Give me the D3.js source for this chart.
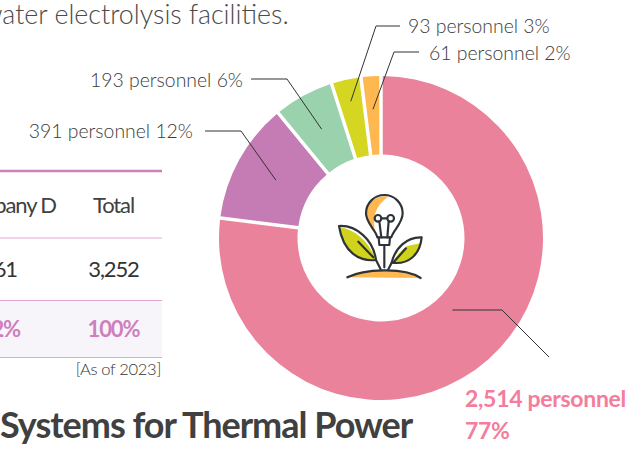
<!doctype html>
<html lang="en">
<head>
<meta charset="utf-8">
<title>Personnel by company</title>
<script src="https://cdn.jsdelivr.net/npm/d3@7"></script>
<style>
	html, body { margin: 0; padding: 0; background: #fff; }
	svg { display: block; }
	text { font-family: Lato, "Open Sans", sans-serif; }
</style>
</head>
<body>
<div id="viz"></div>
<script>
// chart values
var personnel = [2514, 391, 193, 93, 61];
var labels = ["2,514 personnel", "391 personnel 12%", "193 personnel 6%", "93 personnel 3%", "61 personnel 2%"];
var colors = ["#eb829b", "#c57bb3", "#9ad2ad", "#d5d621", "#ffb84f"];

// table fragment left of the donut
var tableHeader = ["Company D", "Total"];
var tableCounts = ["61", "3,252"];
var tableShares = ["2%", "100%"];

var w = 636, h = 450;
var cx = 381, cy = 238, outer = 162, inner = 83.5;
var ink = "#404040", purple = "#cf7fbc";

var svg = d3.select("#viz").append("svg")
	.attr("width", w)
	.attr("height", h)
	.attr("viewBox", "0 0 " + w + " " + h);

// text around the chart
svg.append("text").attr("x", -18).attr("y", 24)
	.style("font-size", "26.8px").style("font-weight", 300).style("fill", "#4a4a4a")
	.text("water electrolysis facilities.");

svg.append("text").attr("x", 0).attr("y", 438)
	.style("font-size", "36px").style("font-weight", 700).style("fill", ink)
	.style("letter-spacing", "-1px")
	.text("Systems for Thermal Power");

// table
svg.append("rect").attr("x", 0).attr("y", 301).attr("width", 162).attr("height", 56).attr("fill", "#f7f4fa");
[[171, 2.4], [238, 1.2], [300.5, 1.2], [357.5, 1.2]].forEach(function(r) {
	svg.append("line").attr("x1", 0).attr("x2", 162).attr("y1", r[0]).attr("y2", r[0])
		.attr("stroke", r[1] > 2 ? purple : "#e4a9d2").attr("stroke-width", r[1]);
});

function tableRow(values, y, color, weight) {
	svg.append("text").attr("x", values === tableShares ? 20 : (values === tableHeader ? 56 : 17)).attr("y", y)
		.attr("text-anchor", "end")
		.style("font-size", "22px").style("font-weight", weight).style("fill", color)
		.style("letter-spacing", "-1.1px")
		.text(values[0]);
	svg.append("text").attr("x", 113.5).attr("y", y)
		.attr("text-anchor", "middle")
		.style("font-size", "22px").style("font-weight", weight).style("fill", color)
		.style("letter-spacing", "-1.1px")
		.text(values[1]);
}
tableRow(tableHeader, 213, ink, 400);
tableRow(tableCounts, 277, "#333", 400);
tableRow(tableShares, 337, purple, 700);

svg.append("text").attr("x", 161).attr("y", 375)
	.attr("text-anchor", "end")
	.style("font-size", "16.5px").style("font-weight", 300).style("fill", "#333")
	.style("letter-spacing", "-0.3px")
	.text("[As of 2023]");

// donut
var pie = d3.pie().sort(null).padAngle(0.0073);
var arc = d3.arc().innerRadius(inner).outerRadius(outer).padAngle(3.5 / outer).padRadius(outer);
var slices = pie(personnel);

var donut = svg.append("g").attr("transform", "translate(" + cx + "," + cy + ")");

donut.selectAll("path.slice")
	.data(slices)
	.enter()
	.append("path")
	.attr("class", "slice")
	.attr("fill", function(d, i) { return colors[i]; })
	.attr("d", arc);

// leader lines: radius inside the slice, then elbow and end relative to the donut centre
var leaders = [
	{ r: 108, elbow: [121, 72], end: [168, 119] },
	{ r: 120, elbow: [-140, -107], end: [-176, -107] },
	{ r: 124, elbow: [-94, -159], end: [-130, -159] },
	{ r: 140, elbow: [-5, -212], end: [19, -212] },
	{ r: 129, elbow: [13, -186], end: [38, -186] }
];

donut.selectAll("path.leader")
	.data(slices)
	.enter()
	.append("path")
	.attr("class", "leader")
	.attr("fill", "none")
	.attr("stroke", "#333")
	.attr("stroke-width", 1)
	.attr("d", function(d, i) {
		var l = leaders[i];
		var a = (d.startAngle + d.endAngle) / 2;
		var start = [Math.sin(a) * l.r, -Math.cos(a) * l.r];
		if (i === 0) start[1] = l.elbow[1]; // this one leaves the elbow level
		return d3.line()([start, l.elbow, l.end]);
	});

var labelPos = [[0, 0], [193, 138], [243, 87], [408, 33], [429, 60]];
labels.forEach(function(t, i) {
	if (i === 0) return;
	svg.append("text").attr("x", labelPos[i][0]).attr("y", labelPos[i][1])
		.attr("text-anchor", i < 3 ? "end" : "start")
		.style("font-size", "19.4px").style("font-weight", 300).style("fill", "#3a3a3a")
		.text(t);
});

[[labels[0], 407], ["77%", 439]].forEach(function(t) {
	svg.append("text").attr("x", 465).attr("y", t[1])
		.style("font-size", "23px").style("font-weight", 700).style("fill", "#f47c9c")
		.style("letter-spacing", "-0.3px")
		.text(t[0]);
});

// centre icon, drawn in zoomed units
var icon = svg.append("g").attr("transform", "translate(320,180) scale(0.3333)")
	.attr("fill", "none").attr("stroke", "#2e3436").attr("stroke-width", 6.5)
	.attr("stroke-linecap", "round").attr("stroke-linejoin", "round");

icon.append("path").attr("stroke", "none").attr("fill", "#ffb84f")
	.attr("d", "M205,50 A56,56 0 0 0 138,100 C138,122 150,138 165,155 C158,110 165,78 205,50 Z");
icon.append("path").attr("stroke", "none").attr("fill", "#d0d21c")
	.attr("d", "M60,142 C110,150 150,190 167,240 C120,244 70,218 60,142 Z");
icon.append("path").attr("stroke", "none").attr("fill", "#d0d21c")
	.attr("d", "M262,198 C240,212 228,230 218,248 C260,252 292,228 300,190 Z");
icon.append("path").attr("stroke", "none").attr("fill", "#ffb84f")
	.attr("d", "M82,292 C130,268 250,260 302,294 Z");

[
	"M172,172 C168,150 138,130 138,100 A55,55 0 1 1 248,100 C248,130 220,150 214,172 Z",
	"M176,172 L178,195 H208 L210,172",
	"M193,195 V262",
	"M178,124 L184,172",
	"M206,124 L202,172",
	"M184,115 H200",
	"M57,138 C110,135 160,180 168,240 C120,245 70,220 57,138 Z",
	"M115,185 L160,232",
	"M168,240 L182,268",
	"M305,172 C260,170 225,205 215,248 C265,255 300,225 305,172 Z",
	"M258,205 L222,245",
	"M215,248 L205,268",
	"M82,292 C130,268 250,260 302,294"
].forEach(function(d) {
	icon.append("path").attr("d", d);
});
icon.selectAll("circle.fil")
	.data([174, 212])
	.enter()
	.append("circle")
	.attr("class", "fil")
	.attr("cx", function(d) { return d; })
	.attr("cy", 115)
	.attr("r", 10);
</script>
</body>
</html>
